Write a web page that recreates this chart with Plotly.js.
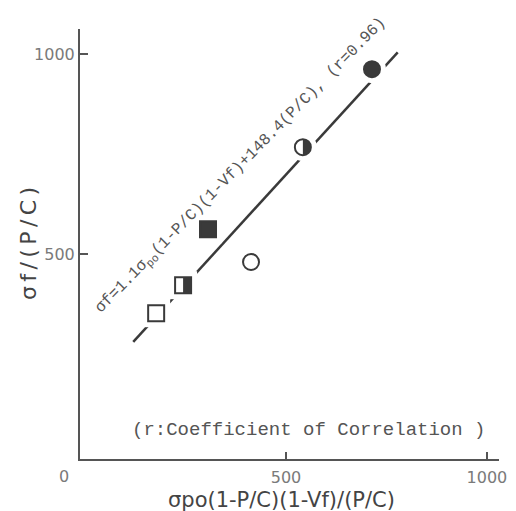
<!DOCTYPE html>
<html>
<head>
<meta charset="utf-8">
<script src="https://cdn.plot.ly/plotly-3.0.1.min.js"></script>
<style>
  html, body { margin: 0; padding: 0; background: #fff; }
  #chart { width: 516px; height: 511px; }
</style>
</head>
<body>
<div id="chart"></div>
<script>
// Specimen results: normalised strength vs. normalised matrix term
const pointNames = ["open square", "half square", "filled square", "open circle", "half circle", "filled circle"];
const xValues = [177, 244, 306, 413, 542, 714];
const yValues = [352, 422, 562, 480, 767, 962];
const pointShapes = ["square", "square", "square", "circle", "circle", "circle"];
const pointFill = ["open", "half", "full", "open", "half", "full"];

// Regression: sf = 1.1 * x + 148.4
const fitSlope = 1.1;
const fitIntercept = 148.4;
const fitXRange = [120, 778];

const tickValues = [500, 1000];
const tickLabels = ["500", "1000"];

const ink = "#3a3a3a";
const axisGray = "#555";
const labelGray = "#7a7a7a";

const fitY = fitXRange.map(x => fitSlope * x + fitIntercept);

const markerSize = 16;

const traces = [
  {
    x: fitXRange, y: fitY, mode: "lines", type: "scatter",
    line: { color: ink, width: 2.5 }, hoverinfo: "skip", showlegend: false
  },
  {
    // white halo that breaks the fit line around each symbol
    x: xValues, y: yValues, mode: "markers", type: "scatter",
    marker: { symbol: pointShapes, size: 28, color: "#fff", line: { width: 0 } },
    hoverinfo: "skip", showlegend: false
  },
  {
    x: xValues, y: yValues, mode: "markers", type: "scatter",
    text: pointNames,
    marker: {
      symbol: pointShapes,
      size: markerSize,
      color: pointFill.map(f => f === "full" ? ink : "#fff"),
      line: { color: ink, width: 2 }
    },
    showlegend: false
  }
];

// right-hand dark half for the half-filled symbols
const r = markerSize / 2;
const k = r * 0.5523;
const shapes = [];
pointFill.forEach((f, i) => {
  if (f !== "half") return;
  const base = {
    xref: "x", yref: "y", xsizemode: "pixel", ysizemode: "pixel",
    xanchor: xValues[i], yanchor: yValues[i],
    fillcolor: ink, line: { width: 0 }, layer: "above"
  };
  if (pointShapes[i] === "square") {
    shapes.push(Object.assign({ type: "rect", x0: 0, x1: r, y0: -r, y1: r }, base));
  } else {
    shapes.push(Object.assign({
      type: "path",
      path: `M0,${-r} C${k},${-r} ${r},${-k} ${r},0 C${r},${k} ${k},${r} 0,${r} Z`
    }, base));
  }
});

const monoFont = "Liberation Mono, Courier New, monospace";
const sansFont = "DejaVu Sans, sans-serif";

const layout = {
  width: 516, height: 511,
  margin: { l: 80, r: 17, t: 29, b: 52 },
  paper_bgcolor: "#fff", plot_bgcolor: "#fff",
  showlegend: false,
  xaxis: {
    range: [-12.5, 1030], tickvals: tickValues, ticktext: tickLabels,
    ticks: "inside", ticklen: 7, tickwidth: 1.5, tickcolor: axisGray,
    showline: true, linecolor: axisGray, linewidth: 2,
    showgrid: false, zeroline: false,
    tickfont: { family: sansFont, size: 16, color: labelGray },
    ticklabelstandoff: 3
  },
  yaxis: {
    range: [-12.5, 1062.5], tickvals: tickValues, ticktext: tickLabels,
    ticks: "inside", ticklen: 8, tickwidth: 1.5, tickcolor: axisGray,
    showline: true, linecolor: axisGray, linewidth: 2,
    showgrid: false, zeroline: false,
    tickfont: { family: sansFont, size: 16, color: labelGray }
  },
  shapes: shapes,
  annotations: [
    {
      x: 388, y: 722, xref: "x", yref: "y", showarrow: false,
      textangle: -45.5,
      text: "σf=1.1σ<sub>po</sub>(1-P/C)(1-Vf)+148.4(P/C), (r=0.96)",
      font: { family: monoFont, size: 16, color: "#555" }
    },
    {
      x: 557, y: 60, xref: "x", yref: "y", showarrow: false,
      text: "(r:Coefficient of Correlation )",
      font: { family: monoFont, size: 19, color: "#555" }
    },
    {
      x: 0, y: 0, xref: "x", yref: "y", showarrow: false,
      xshift: -21, yshift: -22, text: "0",
      font: { family: sansFont, size: 16, color: labelGray }
    },
    {
      x: 0.482, y: 0, xref: "paper", yref: "paper", showarrow: false,
      yanchor: "middle", yshift: -41,
      text: "σpo(1-P/C)(1-Vf)/(P/C)",
      font: { family: sansFont, size: 21, color: "#444" }
    },
    {
      x: 0, y: 0.5, xref: "paper", yref: "paper", showarrow: false,
      xanchor: "center", xshift: -52, textangle: -90,
      text: "σ\u2009f\u2009/\u2009(\u2009P\u2009/\u2009C\u2009)",
      font: { family: sansFont, size: 22, color: "#444" }
    }
  ]
};

Plotly.newPlot("chart", traces, layout, { displayModeBar: false, staticPlot: true });
</script>
</body>
</html>
